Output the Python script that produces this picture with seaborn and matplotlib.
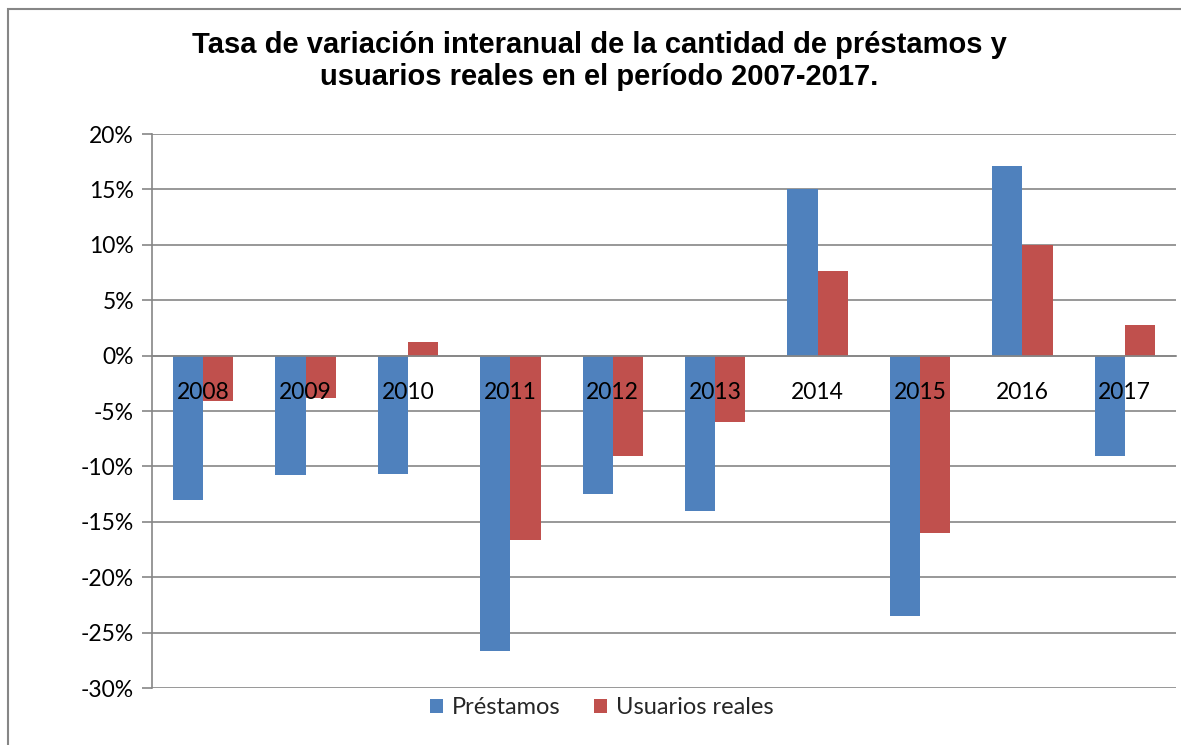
import matplotlib
matplotlib.use("Agg")
import matplotlib.pyplot as plt
from matplotlib.patches import Rectangle
from matplotlib.ticker import FixedLocator, PercentFormatter
import seaborn as sns
import pandas as pd

# Data (% variation)
years = ["2008", "2009", "2010", "2011", "2012", "2013", "2014", "2015", "2016", "2017"]
prestamos = [-13.0, -10.8, -10.7, -26.7, -12.5, -14.0, 15.0, -23.5, 17.1, -9.1]
usuarios = [-4.1, -3.8, 1.2, -16.6, -9.1, -6.0, 7.6, -16.0, 10.0, 2.8]
series = ["Préstamos", "Usuarios reales"]
colors = ["#4F81BD", "#C0504D"]

df = pd.DataFrame({
    "year": years * 2,
    "valor": prestamos + usuarios,
    "serie": [series[0]] * len(years) + [series[1]] * len(years),
})

sns.set_style("white")
plt.rcParams["font.family"] = ["Lato", "DejaVu Sans"]
plt.rcParams["axes.unicode_minus"] = False

fig = plt.figure(figsize=(11.81, 7.45), dpi=100)
ax = fig.add_axes([152 / 1181, 1 - 688 / 745, (1176 - 152) / 1181, (688 - 134) / 745])

sns.barplot(data=df, x="year", y="valor", hue="serie", palette=colors,
            width=0.59, saturation=1, linewidth=0, ax=ax, legend=True)

ax.set_ylim(-30, 20)
ax.set_xlim(-0.5, len(years) - 0.5)
ax.yaxis.set_major_locator(FixedLocator(range(-30, 21, 5)))
ax.yaxis.set_major_formatter(PercentFormatter(decimals=0))
ax.grid(axis="y", color="#868686", linewidth=1.2)
ax.set_axisbelow(True)
ax.xaxis.set_zorder(5)

# x axis sits on the zero line, labels overlap the bars
ax.spines["bottom"].set_position(("data", 0))
for s in ["top", "right"]:
    ax.spines[s].set_visible(False)
for s in ["left", "bottom"]:
    ax.spines[s].set_color("#868686")
    ax.spines[s].set_linewidth(1.2)

ax.set_xticks([i - 0.5 for i in range(len(years) + 1)], minor=True)
ax.tick_params(axis="x", which="major", length=0, pad=19, labelsize=16.5, labelcolor="black")
ax.tick_params(axis="x", which="minor", length=6, width=1.2, color="#868686", direction="out")
ax.tick_params(axis="y", length=7, width=1.2, color="#868686", direction="out",
               pad=6, labelsize=16.5, labelcolor="black", left=True)
ax.set_xlabel("")
ax.set_ylabel("")

ax.legend(loc="center", bbox_to_anchor=(602 / 1181, 1 - 708 / 745),
          bbox_transform=fig.transFigure, ncol=2, frameon=False,
          fontsize=17, handlelength=0.55, handleheight=0.55,
          handletextpad=0.4, columnspacing=1.4)

fig.text(599 / 1181, 1 - 61 / 745,
         "Tasa de variación interanual de la cantidad de préstamos y\nusuarios reales en el período 2007-2017.",
         ha="center", va="center", fontsize=21, fontweight="bold", color="black",
         family=["Liberation Sans", "DejaVu Sans"], linespacing=1.2)

# chart area border (only left/top visible in the reference crop)
fig.add_artist(Rectangle((8 / 1181, -0.1), 1.2, 1.1 - 9 / 745, transform=fig.transFigure,
                         fill=False, edgecolor="#868686", linewidth=1.5))

fig.savefig("out.png", dpi=100)
